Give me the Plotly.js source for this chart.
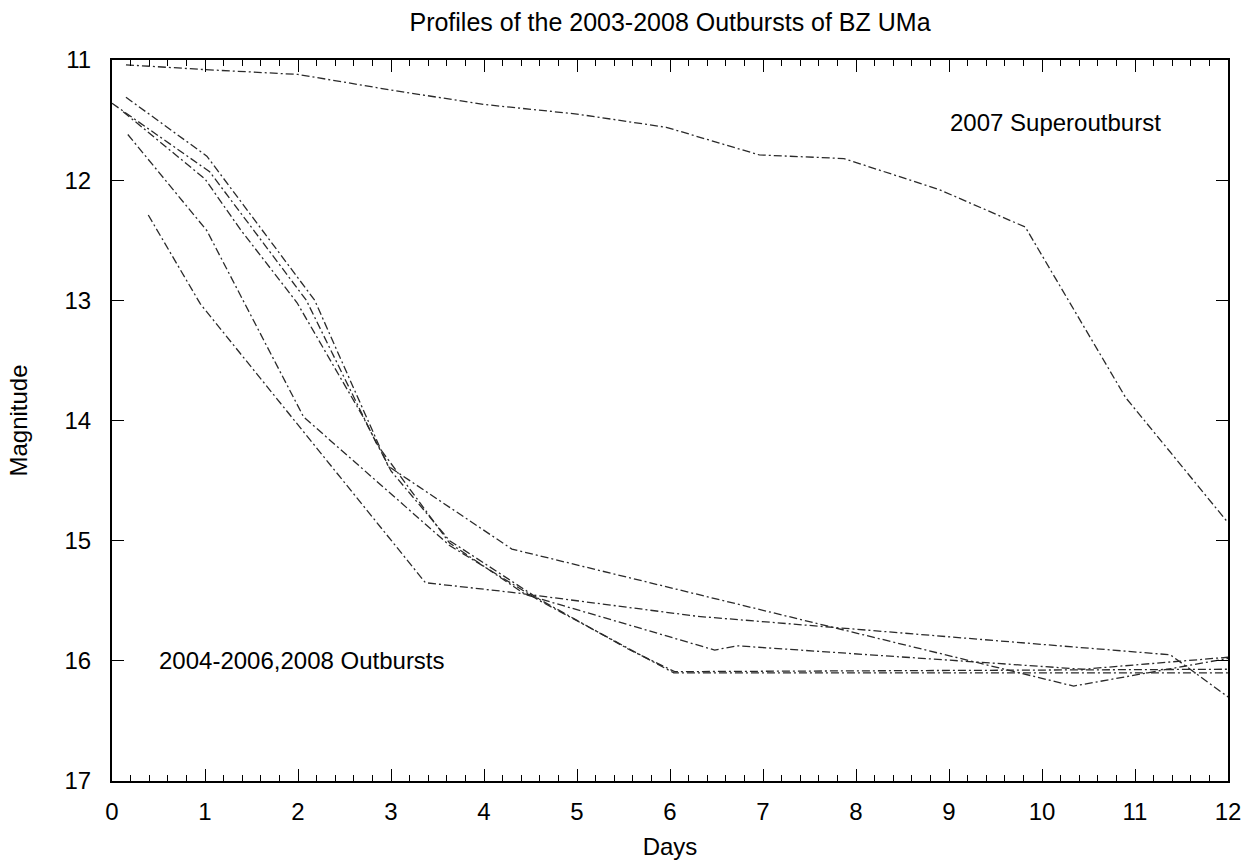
<!DOCTYPE html>
<html>
<head>
<meta charset="utf-8">
<script src="https://cdn.plot.ly/plotly-3.0.1.min.js"></script>
<style>html,body{margin:0;padding:0;background:#fff;}#chart{width:1257px;height:862px;}</style>
</head>
<body>
<div id="chart"></div>
<script>
// 2007 superoutburst
const superDays = [0.15, 1, 2, 3, 4, 5, 5.96, 6.96, 7.87, 8.9, 9.82, 10.9, 12];
const superMag  = [11.04, 11.08, 11.12, 11.25, 11.37, 11.45, 11.56, 11.79, 11.82, 12.08, 12.39, 13.81, 14.85];

// normal outbursts (2004-2006, 2008)
const outADays = [0.15, 1.02, 2.18, 2.97, 4.3, 10.34, 12];
const outAMag  = [11.31, 11.80, 13.0, 14.38, 15.07, 16.21, 15.98];

const outBDays = [0, 1.05, 2.09, 2.85, 3.63, 4.45, 6.48, 6.72, 10.44, 12];
const outBMag  = [11.36, 11.93, 13.0, 14.2, 15.02, 15.45, 15.91, 15.875, 16.07, 15.97];

const outCDays = [0.12, 1.0, 1.38, 1.99, 2.70, 3.0, 3.63, 4.6, 5.57, 6.05, 12];
const outCMag  = [11.43, 11.99, 12.41, 13.02, 13.97, 14.42, 15.0, 15.49, 15.91, 16.09, 16.07];

const outDDays = [0.17, 1.02, 2.06, 3.63, 4.6, 6.04, 12];
const outDMag  = [11.62, 12.42, 13.97, 15.04, 15.5, 16.1, 16.1];

const outEDays = [0.39, 0.95, 3.37, 4.3, 6.3, 8.8, 11.38, 12];
const outEMag  = [12.29, 13.03, 15.35, 15.43, 15.63, 15.79, 15.95, 16.3];

const series = [
  [superDays, superMag],
  [outADays, outAMag],
  [outBDays, outBMag],
  [outCDays, outCMag],
  [outDDays, outDMag],
  [outEDays, outEMag]
];

const lineStyle = {color: '#2a2a2a', width: 1.3, dash: '8px,3px,2px,3px'};
const traces = series.map(s => ({
  x: s[0], y: s[1], type: 'scatter', mode: 'lines',
  line: lineStyle, showlegend: false, hoverinfo: 'skip'
}));

const FS = 24;
const font = {family: 'Liberation Sans, Arial, sans-serif', color: '#000', size: FS};
const titleFont = {family: 'Liberation Sans, Arial, sans-serif', color: '#000', size: 25};

const layout = {
  width: 1257, height: 862,
  paper_bgcolor: '#fff', plot_bgcolor: '#fff',
  margin: {l: 112, r: 29, t: 60, b: 81},
  font: font,
  title: {text: 'Profiles of the 2003-2008 Outbursts of BZ UMa', font: titleFont,
          x: 0.5, xref: 'paper', xanchor: 'center', y: 1 - 22/862, yanchor: 'middle', yref: 'container'},
  xaxis: {
    range: [0, 12], dtick: 1, tick0: 0,
    showgrid: false, zeroline: false,
    showline: true, linecolor: '#000', linewidth: 2, mirror: 'allticks',
    ticks: 'inside', ticklen: 12, tickwidth: 1, tickcolor: '#000',
    minor: {dtick: 0.2, ticks: 'inside', ticklen: 6, tickwidth: 1, tickcolor: '#000', showgrid: false},
    tickfont: font, ticklabelstandoff: 8,
    title: {text: 'Days', font: font, standoff: 14}
  },
  yaxis: {
    range: [17, 11], dtick: 1, tick0: 11,
    showgrid: false, zeroline: false,
    showline: true, linecolor: '#000', linewidth: 2, mirror: 'allticks',
    ticks: 'inside', ticklen: 12, tickwidth: 1, tickcolor: '#000',
    tickfont: font, ticklabelstandoff: 14,
    title: {text: 'Magnitude', font: font, standoff: 30}
  },
  annotations: [
    {x: 8.99, y: 11.52, xref: 'x', yref: 'y', text: '2007 Superoutburst', showarrow: false,
     xanchor: 'left', yanchor: 'middle', font: font},
    {x: 0.48, y: 16.0, xref: 'x', yref: 'y', text: '2004-2006,2008 Outbursts', showarrow: false,
     xanchor: 'left', yanchor: 'middle', font: font}
  ]
};

Plotly.newPlot('chart', traces, layout, {staticPlot: true, displayModeBar: false});
</script>
</body>
</html>
